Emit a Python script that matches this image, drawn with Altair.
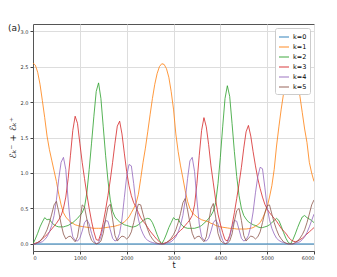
import altair as alt
import pandas as pd

# sample times (every 50 time units)
T = list(range(0, 6001, 50))

LABELS = ["k=0", "k=1", "k=2", "k=3", "k=4", "k=5"]
COLORS = ["#1f77b4", "#ff7f0e", "#2ca02c", "#d62728", "#9467bd", "#8c564b"]

K0_T = [0, 6000]
K0 = [0.0, 0.0]

K1 = [
    2.55, 2.52, 2.42, 2.25, 2.02, 1.78, 1.52, 1.33, 1.18, 1.03,
    0.88, 0.70, 0.55, 0.44, 0.38, 0.34, 0.31, 0.29, 0.27, 0.26,
    0.25, 0.245, 0.24, 0.235, 0.23, 0.225, 0.22, 0.22, 0.22, 0.22,
    0.225, 0.23, 0.235, 0.24, 0.245, 0.25, 0.26, 0.27, 0.29, 0.31,
    0.34, 0.38, 0.44, 0.50, 0.57, 0.70, 0.92, 1.15, 1.35, 1.58,
    1.82, 2.05, 2.25, 2.40, 2.50, 2.54,
    2.53, 2.47, 2.35, 2.15, 1.90, 1.55, 1.30, 1.10, 0.93, 0.75,
    0.60, 0.50, 0.44, 0.41, 0.38, 0.36, 0.34, 0.33, 0.32, 0.31,
    0.29, 0.28, 0.26, 0.25, 0.24, 0.235, 0.23, 0.225, 0.22, 0.22,
    0.215, 0.21, 0.21, 0.21, 0.21, 0.21, 0.215, 0.22, 0.23, 0.25,
    0.27, 0.30, 0.36, 0.43, 0.52, 0.66, 0.82, 1.05, 1.38, 1.65,
    1.90, 2.12, 2.30, 2.44, 2.51,
    2.50, 2.42, 2.28, 2.08, 1.85, 1.62, 1.43, 1.15, 1.00, 0.88,
]

K2 = [
    0.00, 0.07, 0.15, 0.24, 0.31, 0.37, 0.34, 0.35, 0.30, 0.27,
    0.25, 0.24, 0.24, 0.24, 0.25, 0.26, 0.28, 0.30, 0.33, 0.36,
    0.40, 0.44, 0.52, 0.72, 1.05, 1.42, 1.80, 2.15, 2.27, 2.05,
    1.65, 1.25, 0.90, 0.62, 0.46, 0.38, 0.34, 0.31, 0.29, 0.27,
    0.26, 0.25, 0.24, 0.24, 0.25, 0.27, 0.30, 0.33, 0.35, 0.36,
    0.35, 0.30, 0.22, 0.13, 0.05, 0.00,
    0.06, 0.14, 0.23, 0.30, 0.37, 0.34, 0.35, 0.29, 0.25, 0.23,
    0.22, 0.22, 0.22, 0.22, 0.23, 0.24, 0.26, 0.29, 0.32, 0.36,
    0.40, 0.46, 0.58, 0.85, 1.22, 1.65, 2.05, 2.23, 2.08, 1.70,
    1.30, 0.95, 0.68, 0.50, 0.40, 0.35, 0.31, 0.29, 0.27, 0.26,
    0.24, 0.23, 0.23, 0.24, 0.25, 0.27, 0.30, 0.33, 0.36, 0.33,
    0.25, 0.16, 0.08, 0.02, 0.00,
    0.06, 0.14, 0.23, 0.31, 0.38, 0.40, 0.37, 0.35, 0.33, 0.30,
]

K3 = [
    0.00, 0.01, 0.02, 0.04, 0.07, 0.10, 0.13, 0.17, 0.21, 0.25,
    0.29, 0.34, 0.40, 0.50, 0.66, 0.92, 1.25, 1.60, 1.80, 1.70,
    1.42, 1.15, 0.92, 0.70, 0.50, 0.32, 0.17, 0.06, 0.05, 0.15,
    0.30, 0.48, 0.68, 0.90, 1.15, 1.42, 1.66, 1.73, 1.55, 1.28,
    1.02, 0.82, 0.68, 0.58, 0.52, 0.44, 0.37, 0.32, 0.28, 0.23,
    0.18, 0.14, 0.10, 0.06, 0.03, 0.00,
    0.01, 0.02, 0.04, 0.06, 0.09, 0.12, 0.16, 0.19, 0.22, 0.26,
    0.30, 0.34, 0.40, 0.55, 0.85, 1.25, 1.60, 1.78, 1.65, 1.40,
    1.10, 0.86, 0.62, 0.42, 0.28, 0.16, 0.06, 0.04, 0.12, 0.26,
    0.44, 0.64, 0.85, 1.08, 1.35, 1.58, 1.67, 1.52, 1.30, 1.10,
    0.92, 0.78, 0.66, 0.56, 0.49, 0.44, 0.40, 0.36, 0.32, 0.27,
    0.22, 0.18, 0.15, 0.10, 0.06,
    0.04, 0.03, 0.04, 0.06, 0.08, 0.11, 0.14, 0.17, 0.20, 0.23,
]

K4 = [
    0.00, 0.00, 0.01, 0.02, 0.03, 0.06, 0.10, 0.17, 0.26, 0.40,
    0.62, 0.92, 1.15, 1.22, 1.05, 0.62, 0.28, 0.10, 0.05, 0.04,
    0.08, 0.18, 0.30, 0.34, 0.28, 0.15, 0.05, 0.00, 0.02, 0.10,
    0.24, 0.33, 0.32, 0.20, 0.08, 0.04, 0.06, 0.15, 0.35, 0.65,
    0.95, 1.12, 1.10, 0.85, 0.55, 0.35, 0.22, 0.14, 0.08, 0.05,
    0.03, 0.02, 0.01, 0.00, 0.00, 0.00,
    0.00, 0.01, 0.02, 0.03, 0.06, 0.10, 0.17, 0.26, 0.40, 0.62,
    0.92, 1.17, 1.22, 1.02, 0.62, 0.28, 0.10, 0.05, 0.04, 0.08,
    0.18, 0.30, 0.34, 0.28, 0.15, 0.05, 0.00, 0.02, 0.10, 0.24,
    0.33, 0.32, 0.20, 0.08, 0.04, 0.06, 0.12, 0.25, 0.45, 0.72,
    0.95, 1.08, 1.06, 0.80, 0.52, 0.34, 0.22, 0.14, 0.08, 0.05,
    0.03, 0.02, 0.01, 0.00, 0.00,
    0.00, 0.01, 0.02, 0.03, 0.06, 0.10, 0.16, 0.24, 0.33, 0.42,
]

K5 = [
    0.00, 0.00, 0.02, 0.04, 0.08, 0.13, 0.20, 0.30, 0.42, 0.55,
    0.60, 0.45, 0.28, 0.14, 0.07, 0.10, 0.11, 0.07, 0.03, 0.10,
    0.30, 0.55, 0.52, 0.35, 0.15, 0.05, 0.02, 0.00, 0.01, 0.04,
    0.15, 0.35, 0.52, 0.56, 0.35, 0.12, 0.04, 0.08, 0.11, 0.10,
    0.07, 0.10, 0.17, 0.30, 0.45, 0.56, 0.55, 0.42, 0.30, 0.20,
    0.12, 0.07, 0.03, 0.01, 0.00, 0.00,
    0.00, 0.02, 0.04, 0.08, 0.13, 0.20, 0.30, 0.43, 0.58, 0.64,
    0.48, 0.30, 0.15, 0.07, 0.10, 0.11, 0.07, 0.03, 0.10, 0.30,
    0.50, 0.57, 0.38, 0.15, 0.05, 0.02, 0.00, 0.01, 0.04, 0.14,
    0.32, 0.47, 0.50, 0.33, 0.12, 0.04, 0.08, 0.11, 0.10, 0.07,
    0.10, 0.17, 0.30, 0.44, 0.54, 0.55, 0.42, 0.30, 0.20, 0.12,
    0.07, 0.03, 0.01, 0.00, 0.00,
    0.00, 0.02, 0.04, 0.08, 0.13, 0.20, 0.30, 0.42, 0.55, 0.62,
]

X_TICKS = [0, 1000, 2000, 3000, 4000, 5000, 6000]
Y_TICKS = [0.0, 0.5, 1.0, 1.5, 2.0, 2.5, 3.0]

rows0 = [{"t": t, "v": v, "k": "k=0"} for t, v in zip(K0_T, K0)]
rows = []
for lab, ser in zip(LABELS[1:], [K1, K2, K3, K4, K5]):
    assert len(ser) == len(T), (lab, len(ser))
    for t, v in zip(T, ser):
        rows.append({"t": t, "v": v, "k": lab})
df0 = pd.DataFrame(rows0)
df = pd.DataFrame(rows)

x_enc = alt.X("t:Q",
              scale=alt.Scale(domain=[0, 6000], nice=False, zero=False),
              axis=alt.Axis(title="t", values=X_TICKS, format="d",
                            titleFontSize=8, titleFontWeight="normal",
                            titleY=10, titleBaseline="top", labelPadding=1))
y_enc = alt.Y("v:Q",
              scale=alt.Scale(domain=[-0.1, 3.1], nice=False, zero=False),
              axis=alt.Axis(title="ℰₖ⁻ + ℰₖ⁺", values=Y_TICKS, format=".1f",
                            titleFontSize=9, titleFontWeight="normal",
                            titlePadding=3))
c_enc = alt.Color("k:N",
                  scale=alt.Scale(domain=LABELS, range=COLORS),
                  legend=alt.Legend(title=None, orient="top-right", offset=4,
                                    fillColor="white", strokeColor="#cccccc",
                                    padding=3, cornerRadius=2,
                                    labelFontSize=6.5, symbolType="stroke",
                                    symbolSize=100, symbolStrokeWidth=1.5,
                                    symbolOpacity=0.6, rowPadding=-1,
                                    labelOffset=3))

blue = alt.Chart(df0).mark_line(opacity=0.5, strokeWidth=2, clip=True).encode(
    x=x_enc, y=y_enc, color=c_enc)
lines = alt.Chart(df).mark_line(opacity=0.8, strokeWidth=1, clip=True).encode(
    x=x_enc, y=y_enc, color=c_enc)

label_df = pd.DataFrame({"s": ["(a)"]})
panel = alt.Chart(label_df).mark_text(align="left", baseline="middle",
                                      fontSize=9, color="#222").encode(
    x=alt.value(-25), y=alt.value(4), text="s:N")

chart = alt.layer(blue, lines, panel).properties(
    width=281, height=227,
    autosize=alt.AutoSizeParams(type="none"),
    padding={"left": 25, "top": 16, "right": 15, "bottom": 18},
).configure(font="DejaVu Sans").configure_view(
    stroke="#555555", strokeWidth=1
).configure_axis(
    labelFontSize=5, labelColor="#333333", tickSize=3, tickColor="#444444",
    domainColor="#555555", gridColor="#dddddd", gridWidth=1, labelPadding=2,
    titleColor="#222222"
)

chart.save("out.html", embed_options={"renderer": "svg", "actions": False})
